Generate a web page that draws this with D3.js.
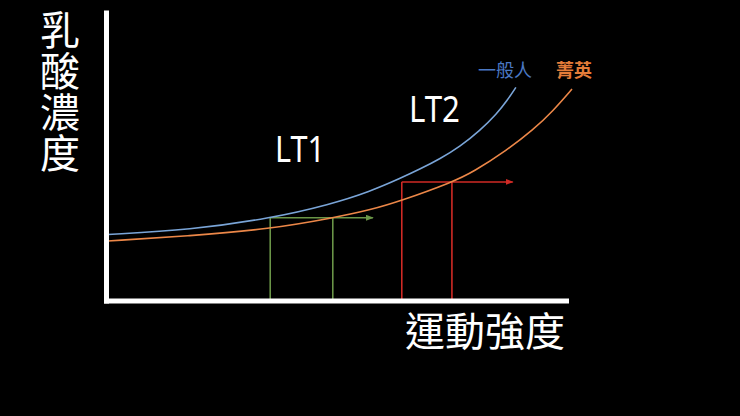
<!DOCTYPE html>
<html>
<head>
<meta charset="utf-8">
<script src="https://cdn.jsdelivr.net/npm/d3@7"></script>
<style>
body { margin:0; background:#000; }
svg { display:block; }
</style>
</head>
<body>
<div class="lactate-wrapper"></div>
<script>

// intensity (0-100) and lactate readings
const normalIntensity = [0.4, 18.3, 35.7, 48.7, 57.4, 64.1, 68.3, 72.6, 77.0, 81.3, 85.0, 87.2, 89.1]
const normalLactate   = [2.75, 2.94, 3.42, 4.0, 4.54, 5.10, 5.48, 5.90, 6.42, 7.08, 7.79, 8.33, 8.88]

const eliteIntensity = [0.4, 18.3, 35.7, 49.3, 57.4, 64.1, 75.4, 79.8, 87.2, 92.8, 97.2, 101.3]
const eliteLactate   = [2.48, 2.69, 2.98, 3.44, 3.77, 4.15, 4.94, 5.35, 6.27, 7.10, 7.90, 8.81]

// thresholds: [lactate level, normal intensity, elite intensity, arrow end]
const lt1 = [3.45, 35.7, 49.3, 58.0]
const lt2 = [4.94, 64.3, 75.2, 88.4]

const seriesNames = ['一般人', '菁英']
const yTitle = '乳酸濃度'
const xTitle = '運動強度'

const width = 740
const height = 416

const svg = d3.select('.lactate-wrapper')
.append('svg')
.attr('width', width)
.attr('height', height)

svg.append('rect')
.attr('width', width)
.attr('height', height)
.attr('fill', '#000')

const defs = svg.append('defs')

const addArrow = (id, colour) => {
	defs.append('marker')
	.attr('id', id)
	.attr('markerUnits', 'userSpaceOnUse')
	.attr('markerWidth', 8)
	.attr('markerHeight', 6)
	.attr('refX', 7)
	.attr('refY', 3)
	.attr('orient', 'auto')
	.append('path')
	.attr('d', 'M0,0 L8,3 L0,6 Z')
	.attr('fill', colour)
}

addArrow('arrow-green', '#6a9547')
addArrow('arrow-red', '#d02a25')

const xScale = d3.scaleLinear()
.domain([0, 100])
.range([106, 566])

const yScale = d3.scaleLinear()
.domain([0, 12])
.range([300.5, 12.5])

const line = d3.line()
.curve(d3.curveBasis)
.x(d => xScale(d[0]))
.y(d => yScale(d[1]))

const normalData = normalIntensity.map((d, i) => [d, normalLactate[i]])
const eliteData = eliteIntensity.map((d, i) => [d, eliteLactate[i]])

// threshold boxes
const drawThreshold = (t, colour, marker) => {
	const g = svg.append('g')
	.attr('fill', 'none')
	.attr('stroke', colour)
	.attr('stroke-width', 1.6)

	g.append('line')
	.attr('x1', xScale(t[1]))
	.attr('x2', xScale(t[1]))
	.attr('y1', yScale(0))
	.attr('y2', yScale(t[0]))

	g.append('line')
	.attr('x1', xScale(t[2]))
	.attr('x2', xScale(t[2]))
	.attr('y1', yScale(0))
	.attr('y2', yScale(t[0]))

	g.append('line')
	.attr('x1', xScale(t[1]))
	.attr('x2', xScale(t[3]))
	.attr('y1', yScale(t[0]))
	.attr('y2', yScale(t[0]))
	.attr('marker-end', `url(#${marker})`)
}

drawThreshold(lt1, '#6a9547', 'arrow-green')
drawThreshold(lt2, '#d02a25', 'arrow-red')

svg.append('path')
.attr('d', line(normalData))
.attr('fill', 'none')
.attr('stroke', '#7aa5d8')
.attr('stroke-width', 1.6)

svg.append('path')
.attr('d', line(eliteData))
.attr('fill', 'none')
.attr('stroke', '#ec8748')
.attr('stroke-width', 1.6)

// axes, no ticks, just the heavy white lines
const axis = svg.append('g')

axis.append('g')
.attr('transform', `translate(${xScale(0)},0)`)
.call(d3.axisLeft(yScale).tickValues([]).tickSizeOuter(0))
.select('.domain')
.attr('stroke', '#fff')
.attr('stroke-width', 5)
.attr('stroke-linecap', 'square')

axis.append('g')
.attr('transform', `translate(0,${yScale(0)})`)
.call(d3.axisBottom(xScale).tickValues([]).tickSizeOuter(0))
.select('.domain')
.attr('stroke', '#fff')
.attr('stroke-width', 5)
.attr('stroke-linecap', 'square')

// series labels at the curve ends
svg.append('text')
.attr('x', 478)
.attr('y', 77)
.attr('fill', '#4a78c4')
.style('font-family', '"Noto Sans CJK TC", sans-serif')
.style('font-size', '18px')
.text(seriesNames[0])

svg.append('text')
.attr('x', 556)
.attr('y', 77)
.attr('fill', '#e47c39')
.style('font-family', '"Noto Sans CJK TC", sans-serif')
.style('font-size', '18px')
.style('font-weight', 'bold')
.text(seriesNames[1])

// LT labels
svg.append('text')
.attr('x', 275)
.attr('y', 162)
.attr('fill', '#fff')
.attr('textLength', 50)
.attr('lengthAdjust', 'spacingAndGlyphs')
.style('font-family', '"Noto Sans", sans-serif')
.style('font-size', '37px')
.text('LT1')

svg.append('text')
.attr('x', 409)
.attr('y', 122)
.attr('fill', '#fff')
.attr('textLength', 51)
.attr('lengthAdjust', 'spacingAndGlyphs')
.style('font-family', '"Noto Sans", sans-serif')
.style('font-size', '36px')
.text('LT2')

// axis titles
svg.append('text')
.attr('x', 60)
.attr('y', 10)
.attr('fill', '#fff')
.style('writing-mode', 'vertical-rl')
.style('letter-spacing', '1px')
.style('font-family', '"Noto Sans CJK TC", sans-serif')
.style('font-size', '40px')
.text(yTitle)

svg.append('text')
.attr('x', 405)
.attr('y', 346)
.attr('fill', '#fff')
.style('font-family', '"Noto Sans CJK TC", sans-serif')
.style('font-size', '40px')
.text(xTitle)

</script>
</body>
</html>
